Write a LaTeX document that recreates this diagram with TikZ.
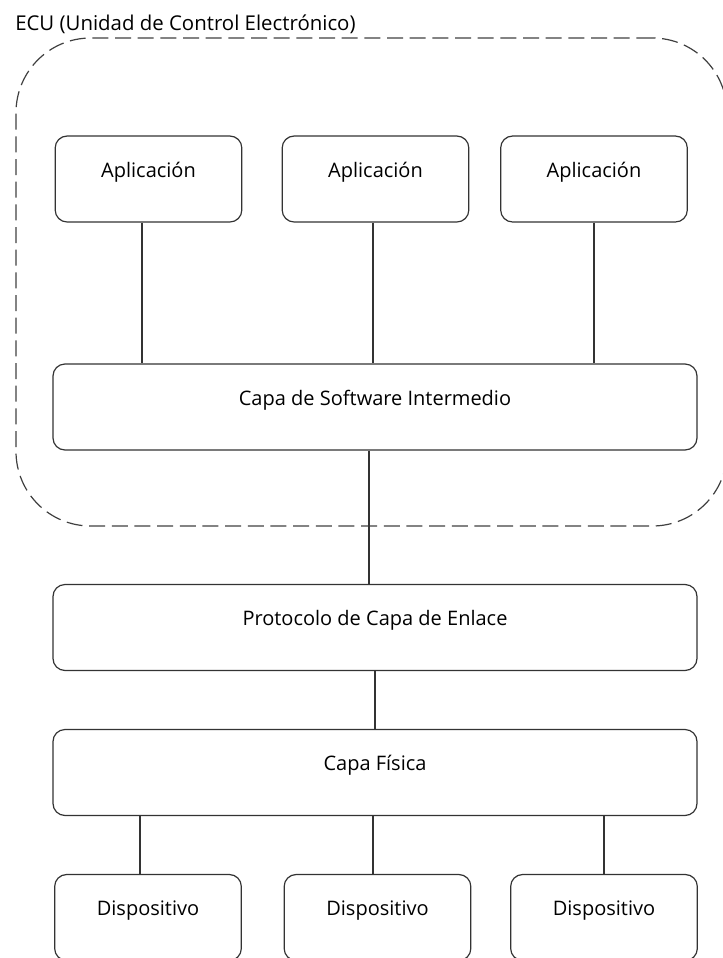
\documentclass[tikz,border=0pt]{standalone}
\usepackage{fontspec}
\setmainfont{Open Sans}
\usetikzlibrary{positioning}
\tikzstyle{block} = [draw=black!80, line width=0.9pt, rectangle, rounded corners=9pt,
inner sep=0pt, minimum height=64.5pt, text height=12pt, text depth=14.8pt,
font=\fontsize{15}{18}\selectfont]
\tikzstyle{small} = [block, minimum width=140pt]
\tikzstyle{wide} = [block, minimum width=483pt]
\tikzstyle{link} = [draw=black!80, line width=0.9pt]
\tikzstyle{group} = [draw=black!75, line width=0.9pt, dash pattern=on 12pt off 5pt,
rounded corners=56pt, inner sep=0pt]

\begin{document}
\begin{tikzpicture}[x=0.75pt, y=-0.75pt]
	\useasboundingbox (0,0) rectangle (723,958);
	\node [anchor=base west, inner sep=0pt, font=\fontsize{15.3}{18}\selectfont] (Title) at (15,30) {ECU (Unidad de Control Electrónico)};
	\node [group, minimum width=533.25pt, minimum height=366pt] (ECU) at (371.5,282) {};
	
	\node [small] (App1) at (148.5,179) {Aplicación};
	\node [small] (App2) at (375.5,179) {Aplicación};
	\node [small] (App3) at (594,179) {Aplicación};
	\node [wide] (Middleware) at (375,407) {Capa de Software Intermedio};
	\node [wide] (Link) at (375,627.5) {Protocolo de Capa de Enlace};
	\node [wide] (Physical) at (375,772.5) {Capa Física};
	\node [small] (Dev1) at (148,917.5) {Dispositivo};
	\node [small] (Dev2) at (377.5,917.5) {Dispositivo};
	\node [small] (Dev3) at (604,917.5) {Dispositivo};
	
	\draw [link] ([xshift=-4.9pt]App1.south) -- ([xshift=-4.9pt]App1.south |- Middleware.north);
	\draw [link] ([xshift=-1.9pt]App2.south) -- ([xshift=-1.9pt]App2.south |- Middleware.north);
	\draw [link] (App3.south) -- (App3.south |- Middleware.north);
	\draw [link] ([xshift=-4.5pt]Middleware.south) -- ([xshift=-4.5pt]Middleware.south |- Link.north);
	\draw [link] (Link.south) -- (Physical.north);
	\draw [link] ([xshift=-6pt]Dev1.north) -- ([xshift=-6pt]Dev1.north |- Physical.south);
	\draw [link] ([xshift=-3.4pt]Dev2.north) -- ([xshift=-3.4pt]Dev2.north |- Physical.south);
	\draw [link] (Dev3.north) -- (Dev3.north |- Physical.south);
	
\end{tikzpicture}
\end{document}
